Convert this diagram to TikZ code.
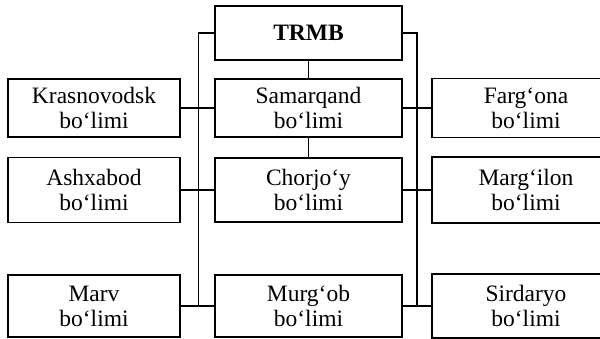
\documentclass[tikz,border=0pt]{standalone}
\usepackage{fontspec}
\setmainfont{Liberation Serif}
\usepackage{tikz}

\begin{document}
\begin{tikzpicture}[x=1pt, y=-1pt,
	unit/.style={draw, line width=1.6pt, inner sep=0pt, align=center,
		font=\fontsize{23.5}{25}\selectfont},
	lft/.style={unit, minimum width=172pt},
	mid/.style={unit, minimum width=187pt},
	rgt/.style={unit, minimum width=188pt},
	link/.style={line width=1.2pt}]
	\useasboundingbox (0,0) rectangle (600,338);
	% head
	\node (trmb) at (308.5,33) [mid, minimum height=54pt] {\textbf{TRMB}};
	% row 1
	\node (krasn) at (94,108) [lft, minimum height=58pt] {Krasnovodsk\\bo‘limi};
	\node (samar) at (308.5,108) [mid, minimum height=58pt] {Samarqand\\bo‘limi};
	\node (farg) at (526,108) [rgt, minimum height=59pt] {Farg‘ona\\bo‘limi};
	% row 2
	\node (ashx) at (94,190) [lft, minimum height=65pt] {Ashxabod\\bo‘limi};
	\node (chorj) at (308.5,190) [mid, minimum height=64pt] {Chorjo‘y\\bo‘limi};
	\node (margi) at (526,190) [rgt, minimum height=66pt] {Marg‘ilon\\bo‘limi};
	% row 3
	\node (marv) at (94,306) [lft, minimum height=62pt] {Marv\\bo‘limi};
	\node (murg) at (308.5,306) [mid, minimum height=62pt] {Murg‘ob\\bo‘limi};
	\node (sird) at (526,306) [rgt, minimum height=64pt] {Sirdaryo\\bo‘limi};
	% buses
	\coordinate (lbus) at (198.5,0);
	\coordinate (rbus) at (417,0);
	\draw[link] (trmb.west) -- (trmb.west -| lbus) -- (lbus |- marv.east);
	\draw[link] (trmb.east) -- (trmb.east -| rbus) -- (rbus |- sird.west);
	\draw[link] (trmb) -- (samar);
	\draw[link] (samar) -- (chorj);
	% branches
	\draw[link] (krasn.east) -- (samar.west);
	\draw[link] (ashx.east) -- (chorj.west);
	\draw[link] (marv.east) -- (murg.west);
	\draw[link] (samar.east) -- (farg.west);
	\draw[link] (chorj.east) -- (margi.west);
	\draw[link] (murg.east) -- (sird.west);
\end{tikzpicture}
\end{document}
